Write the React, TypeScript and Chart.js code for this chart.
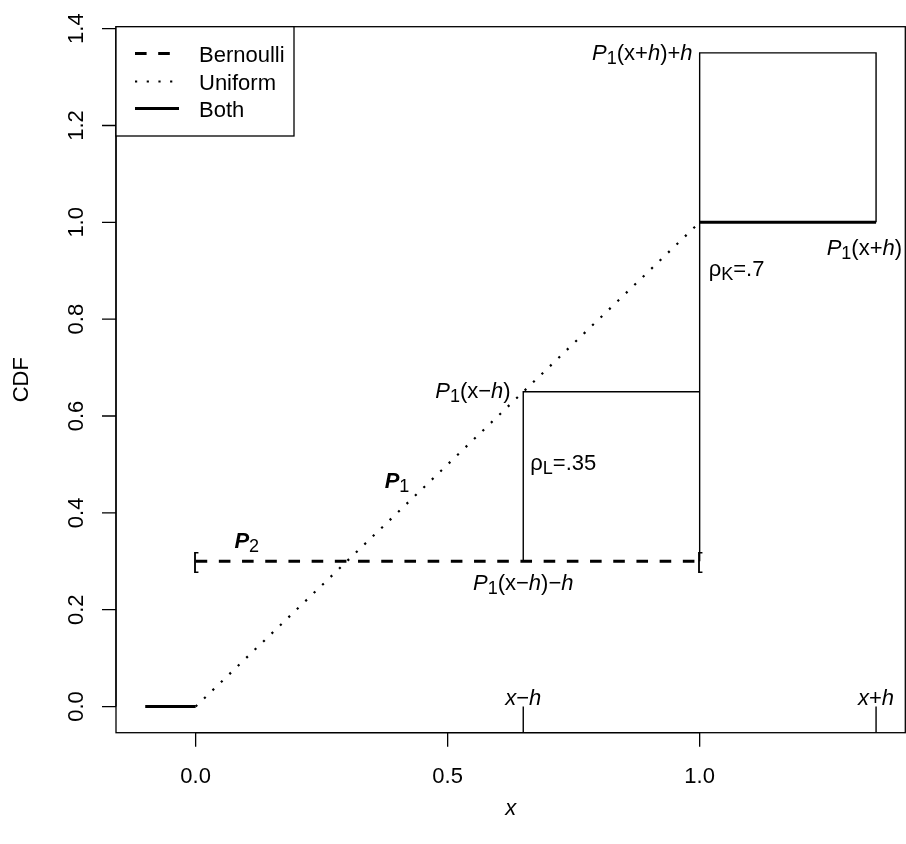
import React, { useEffect, useRef } from "react";
import { Chart, registerables } from "chart.js";

Chart.register(...registerables);

// ---- axis ranges & ticks ----
const X_MIN = -0.158;
const X_MAX = 1.408;
const Y_MIN = -0.054;
const Y_MAX = 1.404;
const xTicks = [0, 0.5, 1.0];
const xTickLabels = ["0.0", "0.5", "1.0"];
const yTicks = [0, 0.2, 0.4, 0.6, 0.8, 1.0, 1.2, 1.4];
const yTickLabels = ["0.0", "0.2", "0.4", "0.6", "0.8", "1.0", "1.2", "1.4"];

// ---- series ----
const bothLeftX = [-0.1, 0];
const bothLeftY = [0, 0];
const bothTopX = [1, 1.35];
const bothTopY = [1, 1];
const uniformX = [0, 1];
const uniformY = [0, 1];
const bernoulliX = [0, 1];
const bernoulliY = [0.3, 0.3];
const lowerBoxX = [0.65, 0.65, 1];
const lowerBoxY = [0.3, 0.65, 0.65];
const upperBoxX = [1, 1, 1.35, 1.35];
const upperBoxY = [0.3, 1.35, 1.35, 1];
const markXs = [0.65, 1.35];
const markLabels = ["x−h", "x+h"];
const bracketXs = [0, 1];
const bracketY = 0.3;

const legendLabels = ["Bernoulli", "Uniform", "Both"];

type Run = { t: string; i?: boolean; b?: boolean; sub?: boolean };
type Ann = { runs: Run[]; x: number; y: number; align: "left" | "right" | "center" };

const annotations: Ann[] = [
  { runs: [{ t: "P", i: true }, { t: "1", sub: true }, { t: "(x+" }, { t: "h", i: true }, { t: ")+" }, { t: "h", i: true }], x: 0.986, y: 1.336, align: "right" },
  { runs: [{ t: "P", i: true }, { t: "1", sub: true }, { t: "(x+" }, { t: "h", i: true }, { t: ")" }], x: 1.252, y: 0.933, align: "left" },
  { runs: [{ t: "ρ" }, { t: "K", sub: true }, { t: "=.7" }], x: 1.018, y: 0.89, align: "left" },
  { runs: [{ t: "P", i: true }, { t: "1", sub: true }, { t: "(x−" }, { t: "h", i: true }, { t: ")" }], x: 0.625, y: 0.637, align: "right" },
  { runs: [{ t: "ρ" }, { t: "L", sub: true }, { t: "=.35" }], x: 0.664, y: 0.488, align: "left" },
  { runs: [{ t: "P", i: true }, { t: "1", sub: true }, { t: "(x−" }, { t: "h", i: true }, { t: ")−" }, { t: "h", i: true }], x: 0.65, y: 0.24, align: "center" },
  { runs: [{ t: "P", i: true, b: true }, { t: "1", sub: true }], x: 0.375, y: 0.451, align: "left" },
  { runs: [{ t: "P", i: true, b: true }, { t: "2", sub: true }], x: 0.077, y: 0.327, align: "left" },
];

const FAMILY = '"Liberation Sans", Arial, Helvetica, sans-serif';
const FS = 22;

function runFont(r: Run, size: number) {
  const s = r.sub ? size * 0.82 : size;
  return `${r.i ? "italic " : ""}${r.b ? "bold " : ""}${s}px ${FAMILY}`;
}

function drawRuns(ctx: CanvasRenderingContext2D, runs: Run[], x: number, y: number, align: string, size: number) {
  ctx.save();
  ctx.textBaseline = "alphabetic";
  ctx.textAlign = "left";
  let w = 0;
  const widths = runs.map((r) => {
    ctx.font = runFont(r, size);
    const m = ctx.measureText(r.t).width;
    w += m;
    return m;
  });
  let cx = align === "right" ? x - w : align === "center" ? x - w / 2 : x;
  runs.forEach((r, k) => {
    ctx.font = runFont(r, size);
    ctx.fillText(r.t, cx, y + (r.sub ? 4 : 0));
    cx += widths[k];
  });
  ctx.restore();
}

const pts = (xs: number[], ys: number[]) => xs.map((x, i) => ({ x, y: ys[i] }));

const decorPlugin = {
  id: "decor",
  afterDraw(chart: any) {
    const ctx: CanvasRenderingContext2D = chart.ctx;
    const xs = chart.scales.x;
    const ys = chart.scales.y;
    const a = chart.chartArea;
    ctx.save();
    ctx.strokeStyle = "#000";
    ctx.fillStyle = "#000";
    ctx.setLineDash([]);
    ctx.lineWidth = 1.3;
    // box
    ctx.strokeRect(a.left, a.top, a.right - a.left, a.bottom - a.top);
    // left axis
    ctx.beginPath();
    ctx.moveTo(a.left, ys.getPixelForValue(yTicks[0]));
    ctx.lineTo(a.left, ys.getPixelForValue(yTicks[yTicks.length - 1]));
    yTicks.forEach((v) => {
      const p = ys.getPixelForValue(v);
      ctx.moveTo(a.left, p);
      ctx.lineTo(a.left - 14, p);
    });
    // bottom axis
    ctx.moveTo(xs.getPixelForValue(xTicks[0]), a.bottom);
    ctx.lineTo(xs.getPixelForValue(xTicks[xTicks.length - 1]), a.bottom);
    xTicks.forEach((v) => {
      const p = xs.getPixelForValue(v);
      ctx.moveTo(p, a.bottom);
      ctx.lineTo(p, a.bottom + 14);
    });
    ctx.stroke();

    ctx.font = `${FS}px ${FAMILY}`;
    ctx.textAlign = "center";
    ctx.textBaseline = "alphabetic";
    xTicks.forEach((v, i) => {
      ctx.fillText(xTickLabels[i], xs.getPixelForValue(v), a.bottom + 50);
    });
    yTicks.forEach((v, i) => {
      ctx.save();
      ctx.translate(a.left - 33, ys.getPixelForValue(v));
      ctx.rotate(-Math.PI / 2);
      ctx.fillText(yTickLabels[i], 0, 0);
      ctx.restore();
    });
    // axis titles
    ctx.save();
    ctx.translate(28, (a.top + a.bottom) / 2);
    ctx.rotate(-Math.PI / 2);
    ctx.fillText("CDF", 0, 0);
    ctx.restore();
    ctx.font = `italic ${FS}px ${FAMILY}`;
    ctx.fillText("x", (a.left + a.right) / 2, a.bottom + 82);

    // x-h / x+h labels
    markXs.forEach((v, i) => {
      const s = markLabels[i];
      drawRuns(ctx, [{ t: s[0], i: true }, { t: s[1] }, { t: s[2], i: true }], xs.getPixelForValue(v), ys.getPixelForValue(0) - 2, "center", FS);
    });
    // brackets
    ctx.font = `${FS}px ${FAMILY}`;
    ctx.textAlign = "center";
    ctx.textBaseline = "middle";
    bracketXs.forEach((v) => {
      ctx.fillText("[", xs.getPixelForValue(v), ys.getPixelForValue(bracketY) + 1);
    });
    // annotations
    annotations.forEach((an) => {
      drawRuns(ctx, an.runs, xs.getPixelForValue(an.x), ys.getPixelForValue(an.y), an.align, FS);
    });

    // legend
    const lx0 = a.left, ly0 = a.top, lx1 = 294, ly1 = 136;
    ctx.fillStyle = "#fff";
    ctx.fillRect(lx0, ly0, lx1 - lx0, ly1 - ly0);
    ctx.lineWidth = 1.3;
    ctx.strokeRect(lx0, ly0, lx1 - lx0, ly1 - ly0);
    const legendDs = [chart.data.datasets[3], chart.data.datasets[2], chart.data.datasets[0]];
    const rowY = [53.5, 81.5, 108.5];
    legendDs.forEach((ds: any, i: number) => {
      ctx.save();
      ctx.strokeStyle = ds.borderColor;
      ctx.lineWidth = ds.borderWidth;
      ctx.setLineDash(ds.borderDash || []);
      ctx.lineCap = "butt";
      ctx.beginPath();
      ctx.moveTo(135, rowY[i]);
      ctx.lineTo(179, rowY[i]);
      ctx.stroke();
      ctx.restore();
      ctx.fillStyle = "#000";
      ctx.font = `${FS}px ${FAMILY}`;
      ctx.textAlign = "left";
      ctx.textBaseline = "alphabetic";
      ctx.fillText(legendLabels[i], 199, rowY[i] + 8.5);
    });
    ctx.restore();
  },
};

export default function App() {
  const ref = useRef<HTMLCanvasElement | null>(null);
  useEffect(() => {
    if (!ref.current) return;
    const line = (data: any, width: number, dash: number[] = []) => ({
      data,
      showLine: true,
      borderColor: "#000",
      backgroundColor: "#000",
      borderWidth: width,
      borderDash: dash,
      borderCapStyle: "butt",
      pointRadius: 0,
      tension: 0,
    });
    const chart = new Chart(ref.current, {
      type: "scatter",
      data: {
        datasets: [
          line(pts(bothLeftX, bothLeftY), 3),
          line(pts(bothTopX, bothTopY), 3),
          line(pts(uniformX, uniformY), 2.2, [2.2, 9.5]),
          line(pts(bernoulliX, bernoulliY), 3, [11.6, 11.6]),
          line(pts(lowerBoxX, lowerBoxY), 1.4),
          line(pts(upperBoxX, upperBoxY), 1.4),
          line(pts([markXs[0], markXs[0]], [Y_MIN, 0]), 1.4),
          line(pts([markXs[1], markXs[1]], [Y_MIN, 0]), 1.4),
        ] as any,
      },
      options: {
        animation: false,
        responsive: false,
        devicePixelRatio: 1,
        layout: { padding: { left: 116, right: 0.7, top: 26.7, bottom: 111.3 } },
        plugins: { legend: { display: false }, tooltip: { enabled: false } },
        scales: {
          x: { type: "linear", min: X_MIN, max: X_MAX, display: false },
          y: { type: "linear", min: Y_MIN, max: Y_MAX, display: false },
        },
      } as any,
      plugins: [decorPlugin],
    });
    return () => chart.destroy();
  }, []);
  return (
    <div style={{ position: "absolute", left: 0, top: 0, width: 906, height: 844, background: "#fff" }}>
      <canvas ref={ref} width={906} height={844} style={{ display: "block" }} />
    </div>
  );
}
